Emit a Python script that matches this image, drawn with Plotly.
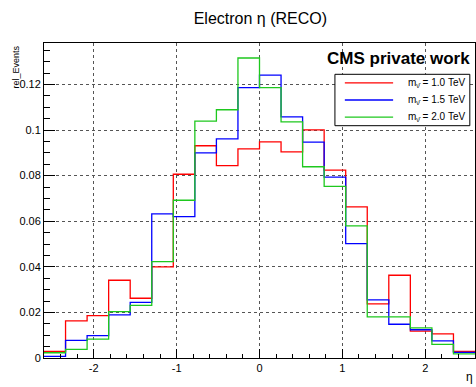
import numpy as np
import plotly.graph_objects as go

# Electron pseudorapidity, 20 bins from -2.6 to 2.6, normalised to unit area
n_bins = 20
eta_min, eta_max = -2.6, 2.6

rel_events_1p0 = [0.0029, 0.0163, 0.0186, 0.0341, 0.0262, 0.0400, 0.0806, 0.0931, 0.0844, 0.0917,
                  0.0948, 0.0904, 0.1001, 0.0824, 0.0663, 0.0237, 0.0363, 0.0118, 0.0106, 0.0029]
rel_events_1p5 = [0.0007, 0.0077, 0.0098, 0.0189, 0.0244, 0.0632, 0.0620, 0.0900, 0.0961, 0.1186,
                  0.1241, 0.1058, 0.0947, 0.0793, 0.0502, 0.0255, 0.0148, 0.0124, 0.0075, 0.0025]
rel_events_2p0 = [0.0023, 0.0038, 0.0083, 0.0203, 0.0231, 0.0423, 0.0692, 0.1039, 0.1089, 0.1316,
                  0.1186, 0.1036, 0.0839, 0.0753, 0.0580, 0.0180, 0.0180, 0.0132, 0.0060, 0.0018]

x_tick_values = [-2, -1, 0, 1, 2]
x_tick_labels = ["-2", "-1", "0", "1", "2"]

series_names = ["m<sub>ν\u0304</sub> = 1.0 TeV", "m<sub>ν\u0304</sub> = 1.5 TeV", "m<sub>ν\u0304</sub> = 2.0 TeV"]
series_colors = ["#ff0000", "#0000ff", "#1ec81e"]

edges = np.linspace(eta_min, eta_max, n_bins + 1)

fig = go.Figure()
for name, color, vals in zip(series_names, series_colors,
                             [rel_events_1p0, rel_events_1p5, rel_events_2p0]):
    fig.add_trace(go.Scatter(
        x=edges, y=list(vals) + [vals[-1]],
        mode="lines", line=dict(color=color, width=1.3, shape="hv"),
        name=name, showlegend=False,
    ))

y_max = 1.05 * max(max(rel_events_1p0), max(rel_events_1p5), max(rel_events_2p0))

font = "Liberation Sans, Arial, sans-serif"
fig.update_layout(
    width=476, height=387,
    margin=dict(l=44, r=1, t=43, b=29),
    paper_bgcolor="white", plot_bgcolor="white",
    font=dict(family=font, size=11, color="black"),
    showlegend=False,
    title=dict(text="Electron η (RECO)", x=0.547, xanchor="center", y=0.953,
               yanchor="middle", font=dict(size=16, family=font)),
)

fig.update_xaxes(
    range=[eta_min, eta_max], tickmode="array",
    tickvals=x_tick_values, ticktext=x_tick_labels,
    ticks="inside", ticklen=9, tickwidth=1, tickcolor="black",
    minor=dict(ticks="inside", ticklen=4, dtick=0.2, tick0=0, tickcolor="black", showgrid=False),
    showline=True, linecolor="black", linewidth=1, mirror=True,
    showgrid=True, gridcolor="#555555", griddash="dot", gridwidth=1,
    zeroline=False, tickfont=dict(size=11),
)
fig.update_yaxes(
    range=[0, y_max], dtick=0.02, tick0=0,
    ticks="inside", ticklen=11, tickwidth=1, tickcolor="black",
    minor=dict(ticks="inside", ticklen=6, dtick=0.005, tickcolor="black", showgrid=False),
    showline=True, linecolor="black", linewidth=1, mirror=True,
    showgrid=True, gridcolor="#555555", griddash="dot", gridwidth=1,
    zeroline=False, tickfont=dict(size=11),
)

# Legend box: line sample on the left, right-aligned label
leg_x0, leg_x1, leg_y0, leg_y1 = 0.675, 0.988, 0.7375, 0.9006
fig.add_shape(type="rect", xref="paper", yref="paper",
              x0=leg_x0, x1=leg_x1, y0=leg_y0, y1=leg_y1,
              line=dict(color="black", width=1), fillcolor="white", layer="above")
row_h = (leg_y1 - leg_y0) / 3
for i, (name, color) in enumerate(zip(series_names, series_colors)):
    yc = leg_y1 - row_h * (i + 0.5)
    fig.add_shape(type="line", xref="paper", yref="paper",
                  x0=0.698, x1=0.810, y0=yc, y1=yc,
                  line=dict(color=color, width=1.3), layer="above")
    fig.add_annotation(text=name, xref="paper", yref="paper",
                       x=0.981, y=yc, xanchor="right", yanchor="middle",
                       showarrow=False, font=dict(size=10, family=font))

fig.add_annotation(text="<b>CMS private work</b>", xref="paper", yref="paper",
                   x=0.993, y=0.95, xanchor="right", yanchor="middle",
                   showarrow=False, font=dict(size=17, family=font))
fig.add_annotation(text="rel_Events", xref="paper", yref="paper",
                   x=-0.065, y=1.0, xanchor="center", yanchor="top", textangle=-90,
                   showarrow=False, font=dict(size=9, family=font))
fig.add_annotation(text="η", xref="paper", yref="paper",
                   x=1.0, y=-0.06, xanchor="right", yanchor="middle",
                   showarrow=False, font=dict(size=12, family=font))

fig.write_html("out.html")
